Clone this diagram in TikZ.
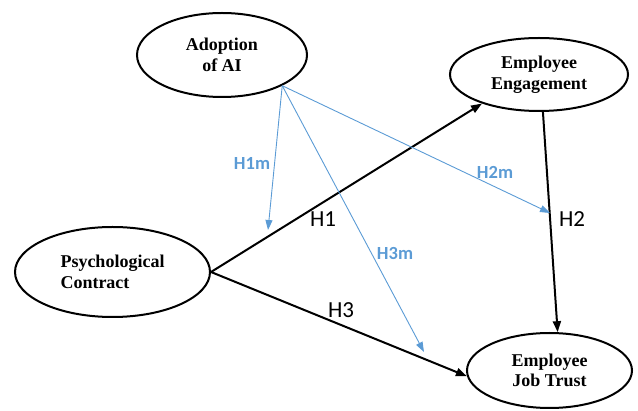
\documentclass[tikz,border=0pt]{standalone}
\usepackage{fontspec}
\setmainfont{Liberation Serif}
\newfontfamily\calib{Carlito}
\usetikzlibrary{shapes.geometric,arrows.meta}
\definecolor{hblue}{RGB}{91,155,213}
\begin{document}
\begin{tikzpicture}[x=1pt,y=-1pt,
 construct/.style={ellipse,draw,line width=2pt,inner sep=0pt,font=\fontsize{18}{20.5}\selectfont\bfseries},
 mainarrow/.style={line width=2pt,-{Triangle[length=11pt,width=8pt]}},
 modarrow/.style={draw=hblue,line width=0.9pt,-{Triangle[length=10pt,width=7pt]}},
 hlab/.style={font=\calib\fontsize{23}{26}\selectfont,inner sep=0pt},
 mlab/.style={font=\calib\bfseries\fontsize{18.5}{21}\selectfont,text=hblue,inner sep=0pt}]
\useasboundingbox (0,0) rectangle (638,411);
\node[construct,align=center,minimum width=170pt,minimum height=84pt] (ai) at (222,55) {Adoption\\of AI};
\node[construct,align=center,minimum width=178pt,minimum height=73pt] (ee) at (539,74.5) {Employee\\Engagement};
\node[construct,align=left,minimum width=195pt,minimum height=90pt] (pc) at (112.5,272) {Psychological\\Contract};
\node[construct,align=center,minimum width=165pt,minimum height=75pt] (ejt) at (549.5,370.5) {Employee\\Job Trust};

\draw[mainarrow] (pc.east) -- (ee.207);
\draw[mainarrow] (pc.east) -- (ejt.184);
\draw[mainarrow] (ee.-84) -- (ejt.78);

\coordinate (t1) at (268,230);
\coordinate (t2) at (550,213);
\coordinate (t3) at (424,352);
\draw[modarrow] (ai.-27) -- (t1);
\draw[modarrow] (ai.-27) -- (t2);
\draw[modarrow] (ai.-27) -- (t3);

\node[hlab] (h1) at (323,219) {H1};
\node[hlab] (h2) at (572,219) {H2};
\node[hlab] (h3) at (341,310) {H3};
\node[mlab] (h1m) at (252,163) {H1m};
\node[mlab] (h2m) at (495,172) {H2m};
\node[mlab] (h3m) at (395,254) {H3m};
\end{tikzpicture}
\end{document}
